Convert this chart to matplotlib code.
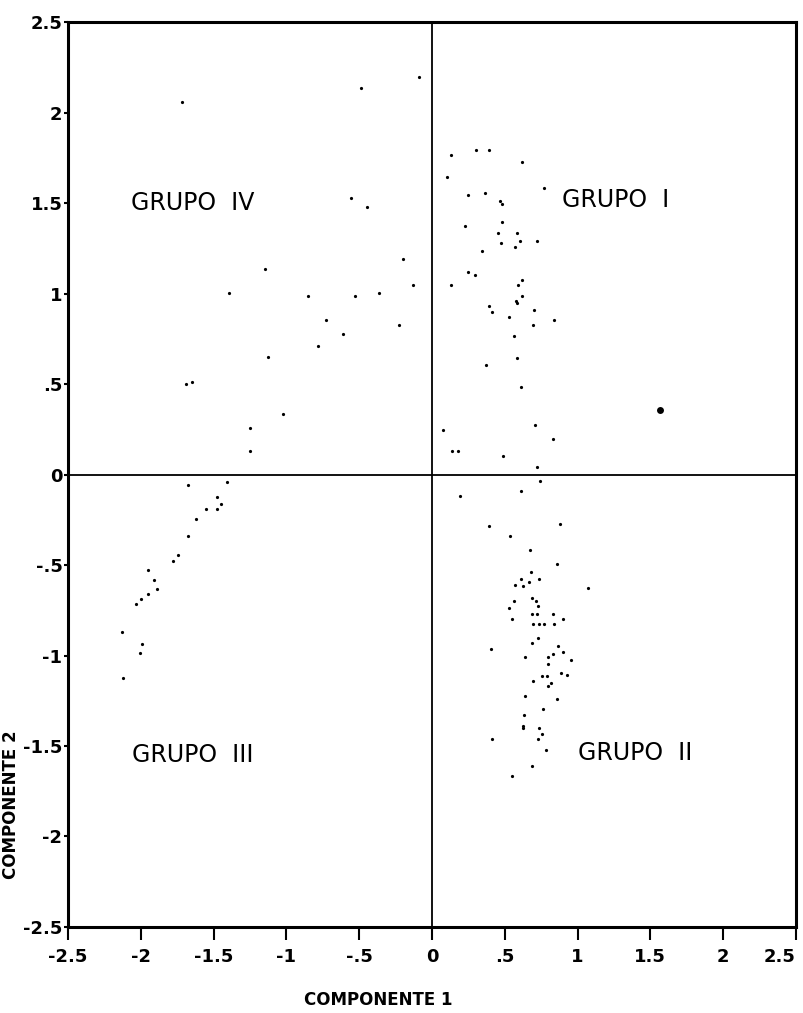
import numpy as np
import matplotlib.pyplot as plt

# scores on the first two components
grupo_iv_x = [-1.715, -0.488, -0.089, -0.558, -0.446, -0.201, -1.145, -0.128, -1.394, -0.850,
              -0.531, -0.366, -0.726, -0.229, -0.613, -0.783, -1.126, -1.692, -1.650, -1.023,
              -1.252, -1.250]
grupo_iv_y = [2.057, 2.136, 2.195, 1.529, 1.481, 1.192, 1.134, 1.050, 1.002, 0.989,
              0.989, 1.002, 0.853, 0.827, 0.779, 0.709, 0.650, 0.499, 0.514, 0.333,
              0.260, 0.131]

grupo_i_x = [0.128, 0.300, 0.391, 0.620, 0.103, 0.771, 0.247, 0.364, 0.467, 0.478,
             0.478, 0.224, 0.453, 0.586, 0.472, 0.570, 0.604, 0.723, 0.341, 0.250,
             0.293, 0.130, 0.616, 0.591, 0.616, 0.575, 0.582, 0.389, 0.414, 0.701,
             0.531, 0.838, 0.694, 0.565, 0.584, 0.371, 0.611, 0.705, 0.078, 0.833,
             0.135, 0.181, 0.486, 0.723]
grupo_i_y = [1.764, 1.792, 1.792, 1.726, 1.646, 1.584, 1.543, 1.556, 1.514, 1.495,
             1.398, 1.376, 1.335, 1.335, 1.278, 1.260, 1.293, 1.293, 1.234, 1.122,
             1.105, 1.050, 1.077, 1.050, 0.989, 0.961, 0.948, 0.934, 0.897, 0.908,
             0.869, 0.853, 0.827, 0.764, 0.646, 0.606, 0.482, 0.274, 0.249, 0.199,
             0.133, 0.133, 0.103, 0.044]

grupo_iii_x = [-1.673, -1.411, -1.480, -1.448, -1.553, -1.480, -1.622, -1.673, -1.742, -1.779,
               -1.953, -1.912, -1.889, -1.949, -2.000, -2.036, -2.128, -1.990, -2.008, -2.119]
grupo_iii_y = [-0.055, -0.043, -0.125, -0.160, -0.188, -0.188, -0.244, -0.342, -0.447, -0.479,
               -0.525, -0.582, -0.631, -0.658, -0.689, -0.715, -0.871, -0.934, -0.988, -1.125]

grupo_ii_x = [0.740, 0.194, 0.610, 0.389, 0.881, 0.533, 0.672, 0.856, 0.679, 0.613,
              0.669, 0.735, 0.571, 0.622, 1.072, 0.562, 0.530, 0.690, 0.717, 0.728,
              0.553, 0.690, 0.724, 0.831, 0.897, 0.697, 0.733, 0.772, 0.840, 0.726,
              0.690, 0.867, 0.403, 0.640, 0.795, 0.831, 0.902, 0.952, 0.797, 0.754,
              0.792, 0.888, 0.929, 0.692, 0.820, 0.799, 0.642, 0.861, 0.760, 0.635,
              0.628, 0.624, 0.733, 0.754, 0.726, 0.414, 0.786, 0.688, 0.549]
grupo_ii_y = [-0.037, -0.120, -0.092, -0.282, -0.271, -0.339, -0.416, -0.496, -0.539, -0.578,
              -0.594, -0.578, -0.612, -0.614, -0.629, -0.696, -0.739, -0.682, -0.698, -0.727,
              -0.796, -0.769, -0.769, -0.769, -0.798, -0.825, -0.825, -0.825, -0.825, -0.902,
              -0.929, -0.945, -0.965, -1.006, -1.006, -0.992, -0.980, -1.024, -1.049, -1.112,
              -1.112, -1.098, -1.108, -1.139, -1.151, -1.167, -1.224, -1.239, -1.296, -1.331,
              -1.388, -1.398, -1.402, -1.435, -1.463, -1.463, -1.524, -1.610, -1.667]

# the one heavy dot on the right
aislado_x = [1.566]
aislado_y = [0.359]

ticks = [-2.5, -2, -1.5, -1, -0.5, 0, 0.5, 1, 1.5, 2, 2.5]
tick_labels = ['-2.5', '-2', '-1.5', '-1', '-.5', '0', '.5', '1', '1.5', '2', '2.5']

grupos = [('GRUPO  I', 0.89, 1.52), ('GRUPO  II', 1.0, -1.54),
          ('GRUPO  III', -2.06, -1.55), ('GRUPO  IV', -2.07, 1.50)]

fig = plt.figure(figsize=(8.04, 10.13), dpi=100)
ax = fig.add_axes([0.0846, 0.085, 0.9054, 0.893])

for gx, gy in [(grupo_i_x, grupo_i_y), (grupo_ii_x, grupo_ii_y),
               (grupo_iii_x, grupo_iii_y), (grupo_iv_x, grupo_iv_y)]:
    ax.plot(gx, gy, 'o', color='black', markersize=2.3, markeredgewidth=0)
ax.plot(aislado_x, aislado_y, 'o', color='black', markersize=5, markeredgewidth=0)

ax.axhline(0, color='black', lw=1.3)
ax.axvline(0, color='black', lw=1.3)

for txt, x, y in grupos:
    ax.text(x, y, txt, fontsize=17, va='center', ha='left', family='DejaVu Sans')

ax.set_xlim(-2.5, 2.5)
ax.set_ylim(-2.5, 2.5)
ax.set_xticks(ticks)
ax.set_yticks(ticks)
ax.set_xticklabels(tick_labels, fontsize=13, fontweight='bold')
ax.set_yticklabels(tick_labels, fontsize=13, fontweight='bold')
ax.get_xticklabels()[-1].set_horizontalalignment('right')
ax.tick_params(axis='x', direction='out', length=9, width=1.5, pad=6)
ax.tick_params(axis='y', direction='out', length=3, width=1.5, pad=1)

for s in ax.spines.values():
    s.set_linewidth(2.2)

fig.text(378 / 804, 1 - 1000 / 1013, 'COMPONENTE 1', ha='center', va='center',
         fontsize=12, fontweight='bold')
fig.text(11 / 804, 1 - 805 / 1013, 'COMPONENTE 2', ha='center', va='center',
         rotation=90, fontsize=12, fontweight='bold')

fig.savefig('out.png', dpi=100)
